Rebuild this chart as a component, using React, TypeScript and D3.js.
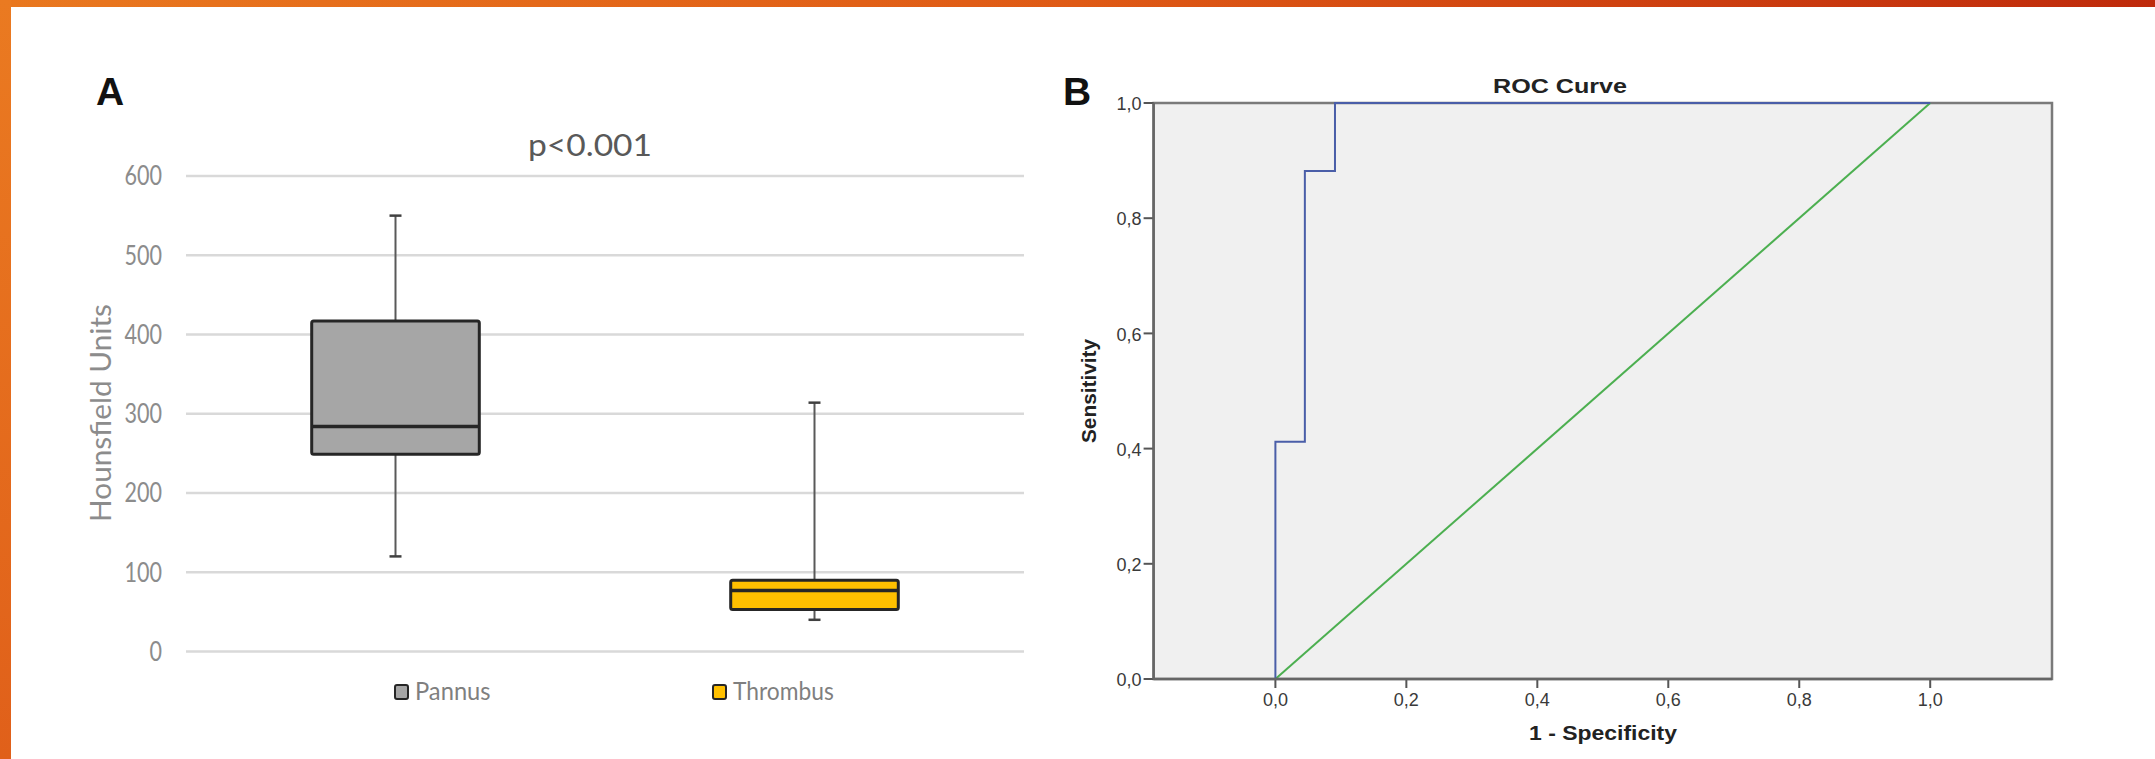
import React from "react";
import * as d3 from "d3";

// ---------- Data ----------
const categories = ["Pannus", "Thrombus"];
const boxMin = [120, 40];
const boxQ1 = [249, 53];
const boxMedian = [284, 77];
const boxQ3 = [417, 90];
const boxMax = [550, 314];
const boxColors = ["#a6a6a6", "#ffc000"];
const huTicks = [0, 100, 200, 300, 400, 500, 600];

const rocFpr = [0, 0, 0.045, 0.045, 0.091, 0.091, 1];
const rocTpr = [0, 0.412, 0.412, 0.882, 0.882, 1, 1];
const refFpr = [0, 1];
const refTpr = [0, 1];
const rocTicks = [0, 0.2, 0.4, 0.6, 0.8, 1.0];

const W = 2155;
const H = 759;

export default function App() {
  // Left panel scales
  const yHU = d3.scaleLinear().domain([0, 600]).range([651.5, 176]);
  const xCat = d3
    .scaleBand<string>()
    .domain(categories)
    .range([186, 1024])
    .paddingInner(0.6)
    .paddingOuter(0.3);
  const bw = xCat.bandwidth();

  // Right panel scales
  const xR = d3.scaleLinear().domain([-0.186, 1.186]).range([1153.6, 2052]);
  const yR = d3.scaleLinear().domain([0, 1]).range([679, 103]);
  const fmt = (v: number) => d3.format(".1f")(v).replace(".", ",");

  const rocLine = d3
    .line<number>()
    .x((d, i) => xR(rocFpr[i]))
    .y((d, i) => yR(rocTpr[i]));
  const refLine = d3
    .line<number>()
    .x((d, i) => xR(refFpr[i]))
    .y((d, i) => yR(refTpr[i]));

  const legendX = [395, 713];
  const sans = "Liberation Sans, Arial, sans-serif";

  return (
    <svg
      width={W}
      height={H}
      style={{ position: "absolute", left: 0, top: 0, background: "#fff" }}
    >
      <defs>
        <linearGradient id="topBar" x1="0" x2="1" y1="0" y2="0">
          <stop offset="0" stopColor="#e9781f" />
          <stop offset="0.5" stopColor="#df5a15" />
          <stop offset="1" stopColor="#bf2a0b" />
        </linearGradient>
        <linearGradient id="leftBar" x1="0" x2="0" y1="0" y2="1">
          <stop offset="0" stopColor="#ea7a21" />
          <stop offset="1" stopColor="#e0601a" />
        </linearGradient>
      </defs>
      <rect x={0} y={0} width={W} height={H} fill="#ffffff" />
      <rect x={0} y={0} width={W} height={7} fill="url(#topBar)" />
      <rect x={0} y={0} width={11} height={H} fill="url(#leftBar)" />

      {/* ---------- Panel A ---------- */}
      <text x={96} y={105} fontFamily={sans} fontWeight="bold" fontSize={39} fill="#111">
        A
      </text>
      <text
        x={590}
        y={156}
        textAnchor="middle"
        fontFamily="Lato, sans-serif"
        fontSize={31}
        fill="#595959"
        textLength={124}
        lengthAdjust="spacingAndGlyphs"
      >
        p&lt;0.001
      </text>
      {huTicks.map((t) => (
        <g key={t}>
          <line x1={186} x2={1024} y1={yHU(t)} y2={yHU(t)} stroke="#d9d9d9" strokeWidth={2.5} />
          <text
            x={162}
            y={yHU(t)}
            dy="0.36em"
            textAnchor="end"
            fontFamily="Lato, sans-serif"
            fontSize={26}
            fill="#8c8c8c"
            textLength={String(t).length * 12.5}
            lengthAdjust="spacingAndGlyphs"
          >
            {t}
          </text>
        </g>
      ))}
      <text
        transform={`translate(111,413) rotate(-90)`}
        textAnchor="middle"
        fontFamily="Lato, sans-serif"
        fontSize={28}
        fill="#8c8c8c"
        textLength={218}
        lengthAdjust="spacingAndGlyphs"
      >
        Hounsfield Units
      </text>
      {categories.map((c, i) => {
        const x0 = xCat(c) as number;
        const cx = x0 + bw / 2;
        return (
          <g key={c}>
            <line x1={cx} x2={cx} y1={yHU(boxQ3[i])} y2={yHU(boxMax[i])} stroke="#595959" strokeWidth={2} />
            <line x1={cx} x2={cx} y1={yHU(boxQ1[i])} y2={yHU(boxMin[i])} stroke="#595959" strokeWidth={2} />
            <line x1={cx - 6} x2={cx + 6} y1={yHU(boxMax[i])} y2={yHU(boxMax[i])} stroke="#404040" strokeWidth={2.5} />
            <line x1={cx - 6} x2={cx + 6} y1={yHU(boxMin[i])} y2={yHU(boxMin[i])} stroke="#404040" strokeWidth={2.5} />
            <rect
              x={x0}
              y={yHU(boxQ3[i])}
              width={bw}
              height={yHU(boxQ1[i]) - yHU(boxQ3[i])}
              fill={boxColors[i]}
              stroke="#262626"
              strokeWidth={3}
              rx={2}
            />
            <line
              x1={x0}
              x2={x0 + bw}
              y1={yHU(boxMedian[i])}
              y2={yHU(boxMedian[i])}
              stroke="#262626"
              strokeWidth={3.5}
            />
          </g>
        );
      })}
      {categories.map((c, i) => (
        <g key={"lg" + c}>
          <rect
            x={legendX[i]}
            y={685}
            width={13}
            height={14}
            rx={2}
            fill={boxColors[i]}
            stroke="#262626"
            strokeWidth={2}
          />
          <text
            x={legendX[i] + 20}
            y={700}
            fontFamily="Lato, sans-serif"
            fontSize={25}
            fill="#7f7f7f"
            textLength={c.length * 12.6}
            lengthAdjust="spacingAndGlyphs"
          >
            {c}
          </text>
        </g>
      ))}

      {/* ---------- Panel B ---------- */}
      <text x={1063} y={105} fontFamily={sans} fontWeight="bold" fontSize={39} fill="#111">
        B
      </text>
      <text
        x={1560}
        y={93}
        textAnchor="middle"
        fontFamily={sans}
        fontWeight="bold"
        fontSize={21}
        fill="#222"
        textLength={134}
        lengthAdjust="spacingAndGlyphs"
      >
        ROC Curve
      </text>
      <rect
        x={xR(-0.186)}
        y={yR(1)}
        width={xR(1.186) - xR(-0.186)}
        height={yR(0) - yR(1)}
        fill="#f0f0f0"
        stroke="#7a7a7a"
        strokeWidth={2.5}
      />
      {rocTicks.map((t) => (
        <g key={"y" + t}>
          <line x1={xR(-0.186) - 10} x2={xR(-0.186)} y1={yR(t)} y2={yR(t)} stroke="#555" strokeWidth={2} />
          <text
            x={xR(-0.186) - 12}
            y={yR(t)}
            dy="0.4em"
            textAnchor="end"
            fontFamily={sans}
            fontSize={18}
            fill="#3a3a3a"
          >
            {fmt(t)}
          </text>
          <line x1={xR(t)} x2={xR(t)} y1={yR(0)} y2={yR(0) + 9} stroke="#555" strokeWidth={2} />
          <text x={xR(t)} y={706} textAnchor="middle" fontFamily={sans} fontSize={18} fill="#3a3a3a">
            {fmt(t)}
          </text>
        </g>
      ))}
      <path d={refLine(refFpr) || ""} fill="none" stroke="#4caf50" strokeWidth={2} />
      <path d={rocLine(rocFpr) || ""} fill="none" stroke="#4a5ea8" strokeWidth={2} />
      <line x1={xR(-0.186)} x2={xR(-0.186)} y1={yR(0)} y2={yR(1)} stroke="#666" strokeWidth={2.5} />
      <line x1={xR(-0.186)} x2={xR(1.186)} y1={yR(0)} y2={yR(0)} stroke="#666" strokeWidth={2.5} />
      <text
        x={1603}
        y={740}
        textAnchor="middle"
        fontFamily={sans}
        fontWeight="bold"
        fontSize={21}
        fill="#222"
        textLength={148}
        lengthAdjust="spacingAndGlyphs"
      >
        1 - Specificity
      </text>
      <text
        transform={`translate(1096,391) rotate(-90)`}
        textAnchor="middle"
        fontFamily={sans}
        fontWeight="bold"
        fontSize={21}
        fill="#222"
        textLength={104}
        lengthAdjust="spacingAndGlyphs"
      >
        Sensitivity
      </text>
    </svg>
  );
}
